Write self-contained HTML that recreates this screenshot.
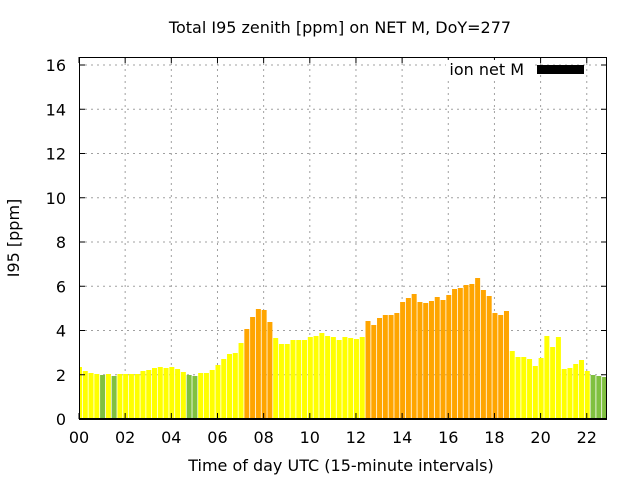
<!DOCTYPE html>
<html><head><meta charset="utf-8"><style>
html,body{margin:0;padding:0;background:#fff;width:640px;height:480px;overflow:hidden}
text{font-family:"DejaVu Sans","Liberation Sans",sans-serif;font-size:16px;fill:#000}
</style></head><body>
<svg id="s" width="640" height="480" xmlns="http://www.w3.org/2000/svg">
<rect width="640" height="480" fill="#fff"/>
<g id="grid" stroke="#a0a0a0" stroke-width="1" stroke-dasharray="2,4"></g>
<g id="bars"></g>
<g id="ticks" stroke="#000" stroke-width="1"></g>
<rect x="79.5" y="57.5" width="527" height="361.5" fill="none" stroke="#000" stroke-width="1"/>
<line x1="79" y1="419" x2="607" y2="419" stroke="#000" stroke-width="2"/>
<g id="labels"></g>
<text x="340" y="33" text-anchor="middle">Total I95 zenith [ppm] on NET M, DoY=277</text>
<text x="341" y="471" text-anchor="middle">Time of day UTC (15-minute intervals)</text>
<text transform="translate(19,238) rotate(-90)" text-anchor="middle">I95 [ppm]</text>
<rect x="446" y="60" width="85" height="19" fill="#fff"/>
<text x="524" y="75" text-anchor="end">ion net M</text>
<rect x="537" y="65" width="47" height="9" fill="#000"/>
</svg>
<script>
var ns="http://www.w3.org/2000/svg";
function el(p,t,a,txt){var e=document.createElementNS(ns,t);for(var k in a)e.setAttribute(k,a[k]);if(txt!=null)e.textContent=txt;document.getElementById(p).appendChild(e);}
var L=79,R=607,B=419,T=57,py=22.125,ph=23.08;
for(var v=2;v<=16;v+=2){var y=B-v*py;el('grid','line',{x1:L,x2:R,y1:y,y2:y});}
for(var h=2;h<=22;h+=2){var x=L+h*ph;el('grid','line',{x1:x,x2:x,y1:T,y2:B});}
for(var v=0;v<=16;v+=2){var y=B-v*py;el('ticks','line',{x1:L,x2:L+6,y1:y,y2:y});el('ticks','line',{x1:R-6,x2:R,y1:y,y2:y});
 el('labels','text',{x:66,y:y+6,'text-anchor':'end'},String(v));}
for(var h=0;h<=22;h+=2){var x=L+h*ph;el('ticks','line',{x1:x,x2:x,y1:B,y2:B-6});el('ticks','line',{x1:x,x2:x,y1:T,y2:T+6});
 el('labels','text',{x:x,y:443,'text-anchor':'middle'},(h<10?'0':'')+h);}
var tops=[367,371,373,374,375,374,376,374,374,374,374,371,370,368,367,368,367,369,372,375,376,373,373,370,365,359,354,353,343,329,317,309,310,322,338,344,344,340,340,340,337,336,333,336,337,340,337,338,339,337,321,325,318,315,315,313,302,298,294,302,303,301,297,300,295,289,288,285,284,278,290,296,313,315,311,351,357,357,359,366,358,336,347,337,369,368,364,360,371,375,376,377];
var G='#80c040',Y='#ffff00',O='#ffa500';
var greens={4:1,6:1,19:1,20:1,89:1,90:1,91:1};
for(var i=0;i<tops.length;i++){
 var c=greens[i]?G:(tops[i]<=329||(i>=50&&i<=74)?O:Y);
 var cx=L+i*5.77+0.5,x0=cx-2.5,x1=cx+2.5;
 if(x0<L)x0=L;if(x1>R)x1=R;
 el('bars','rect',{x:x0,y:tops[i],width:x1-x0,height:B-tops[i],fill:c});
}
</script>
</body></html>
